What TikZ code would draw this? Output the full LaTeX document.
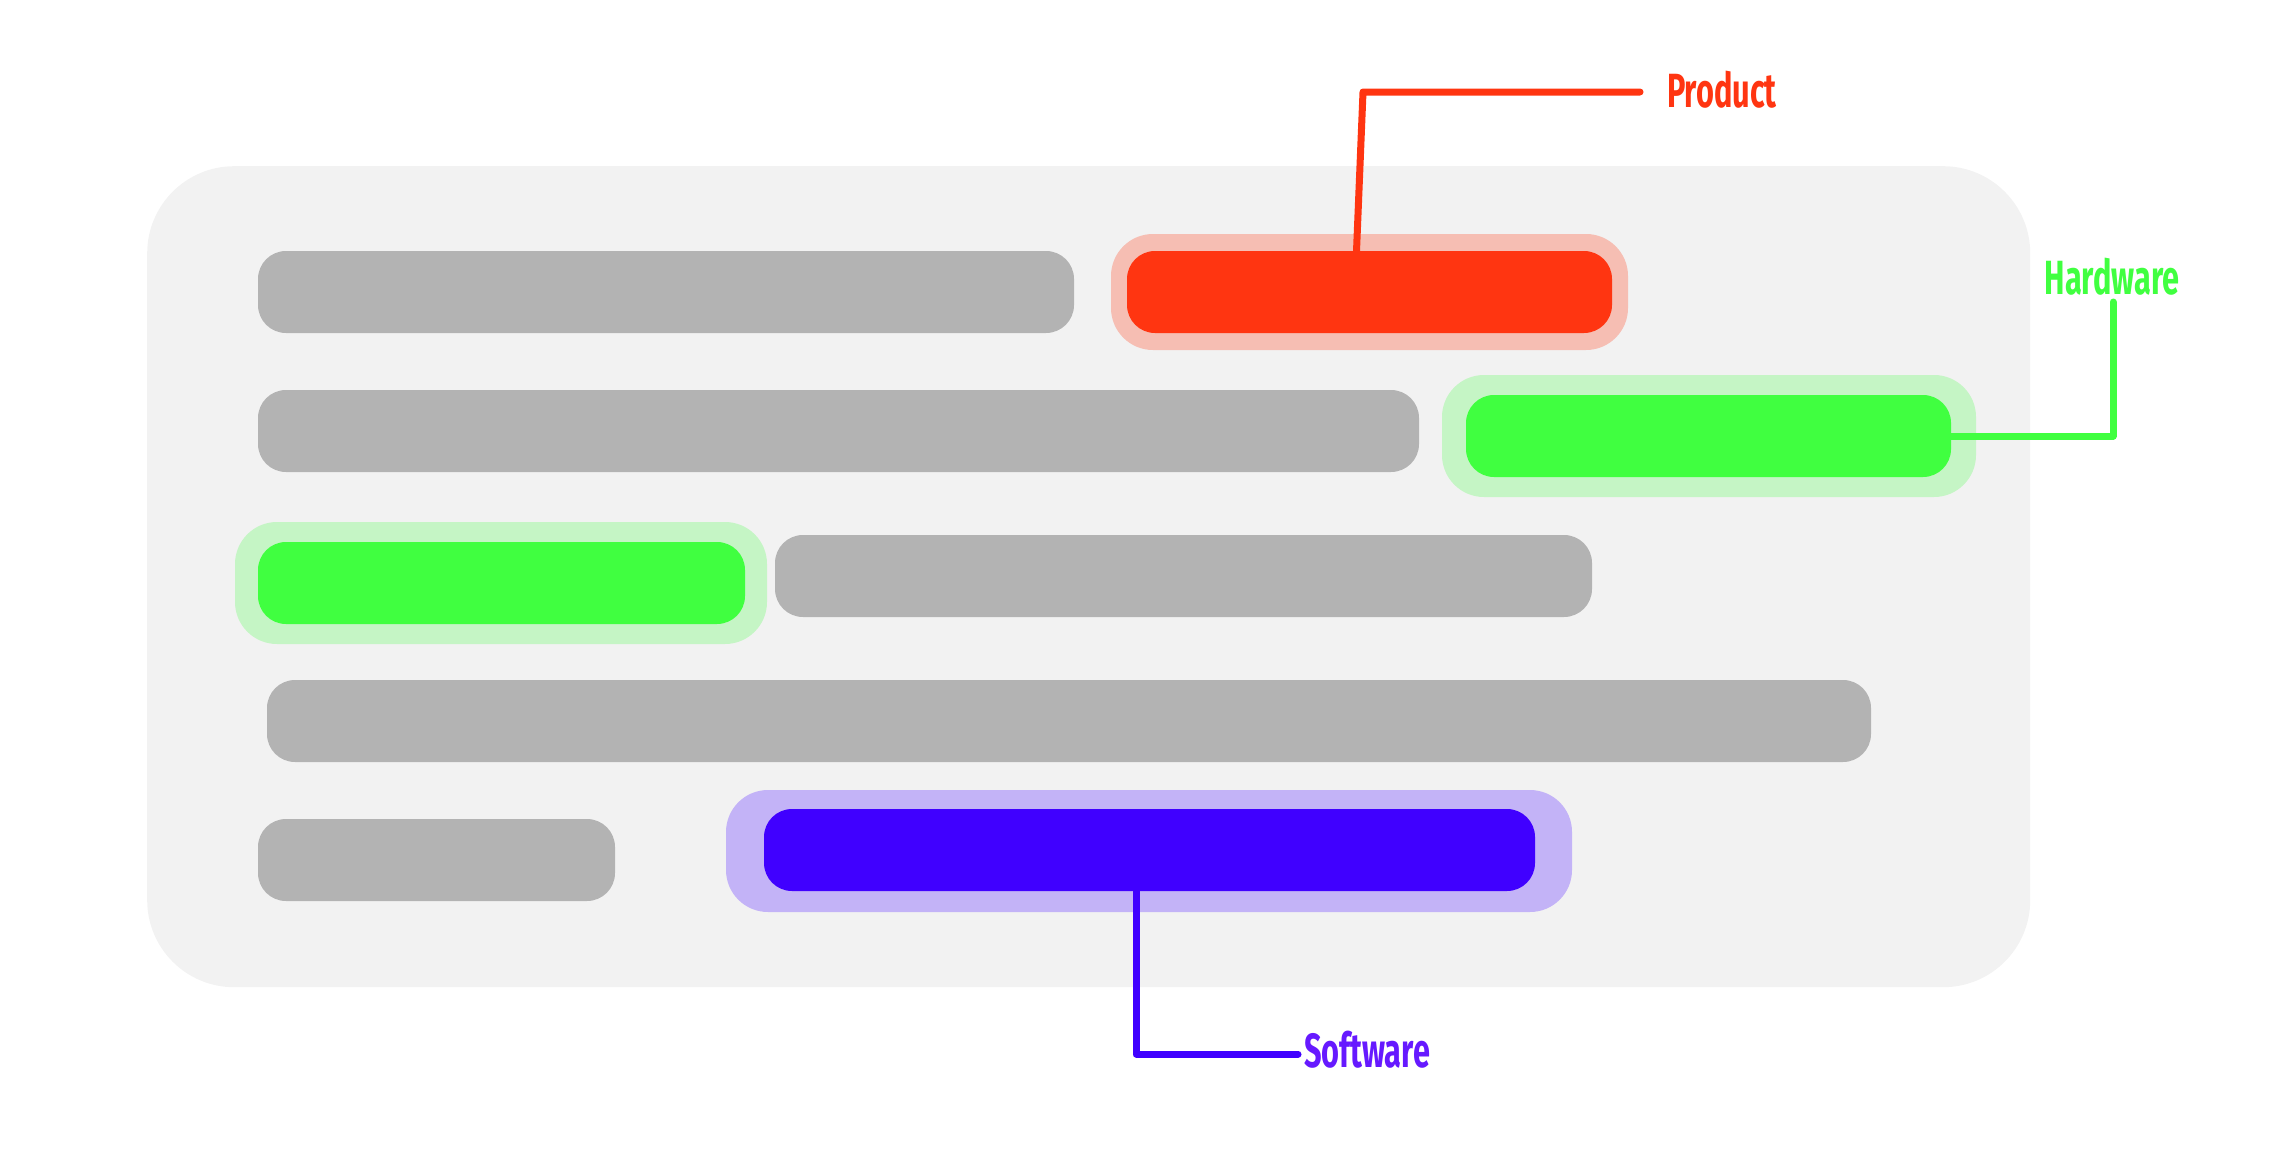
\documentclass[tikz,border=0pt]{standalone}
\usepackage{fontspec}
\newfontfamily\labelfont{Fira Sans}[FakeStretch=0.64]
\definecolor{bgcol}{HTML}{F2F2F2}
\definecolor{graycol}{HTML}{B3B3B3}
\definecolor{redcol}{HTML}{FF3511}
\definecolor{redhalo}{HTML}{F6BEB3}
\definecolor{greencol}{HTML}{40FF40}
\definecolor{greenhalo}{HTML}{C5F5C5}
\definecolor{purplecol}{HTML}{4000FF}
\definecolor{purplehalo}{HTML}{C3B3F7}
\definecolor{purpletext}{HTML}{6619FF}
\begin{document}
\begin{tikzpicture}[x=1pt,y=-1pt,
  barbox/.style={inner sep=0pt, outer sep=0pt, minimum height=82pt, rounded corners=28pt, anchor=north west},
  halobox/.style={inner sep=0pt, outer sep=0pt, minimum height=122pt, rounded corners=42pt, anchor=north west},
  grayb/.style={barbox, fill=graycol},
  leader/.style={line width=7pt, line cap=round, line join=round},
  lbl/.style={inner sep=0pt, outer sep=0pt, font=\labelfont\bfseries\fontsize{48}{48}\selectfont}]
\useasboundingbox (0,0) rectangle (2275,1156);
% background panel
\node[inner sep=0pt, fill=bgcol, rounded corners=87pt, minimum width=1883pt, minimum height=821pt, anchor=north west] (panel) at (147,166) {};
% row 1
\node[grayb, minimum width=816pt] (g1) at (258,251) {};
\node[halobox, fill=redhalo, minimum width=517pt, minimum height=116pt] (rh) at (1111,234) {};
\node[barbox, fill=redcol, minimum width=485pt] (red) at (1127,251) {};
% row 2
\node[grayb, minimum width=1161pt] (g2) at (258,390) {};
\node[halobox, fill=greenhalo, minimum width=534pt] (gh2) at (1442,375) {};
\node[barbox, fill=greencol, minimum width=485pt] (green2) at (1466,395) {};
% row 3
\node[halobox, fill=greenhalo, minimum width=532pt] (gh3) at (235,522) {};
\node[barbox, fill=greencol, minimum width=487pt] (green3) at (258,542) {};
\node[grayb, minimum width=817pt] (g3) at (775,535) {};
% row 4
\node[grayb, minimum width=1604pt] (g4) at (267,680) {};
% row 5
\node[grayb, minimum width=357pt] (g5) at (258,819) {};
\node[halobox, fill=purplehalo, minimum width=846pt] (ph) at (726,790) {};
\node[barbox, fill=purplecol, minimum width=771pt] (purple) at (764,809) {};
% labels
\node[lbl, text=redcol, anchor=base west] (prodlabel) at (1667,107) {Product};
\node[lbl, text=greencol, anchor=base] (hwlabel) at (2112,294) {Hardware};
\node[lbl, text=purpletext, anchor=base west] (swlabel) at (1304,1067) {Software};
% leader coordinates
\coordinate (pc) at (1363,92);
\coordinate (pe) at (1640,92);
\coordinate (hc) at (2113,436);
\coordinate (he) at (2113,302);
\coordinate (sc) at (1136,1054);
\coordinate (se) at (1298,1054);
% leaders
\draw[leader, redcol] ([xshift=-13pt]red.north) -- (pc) -- (pe);
\draw[leader, greencol] (green2.east) -- (hc) -- (he);
\draw[leader, purplecol] ([xshift=-13.5pt]purple.south) -- (sc) -- (se);
\end{tikzpicture}
\end{document}
